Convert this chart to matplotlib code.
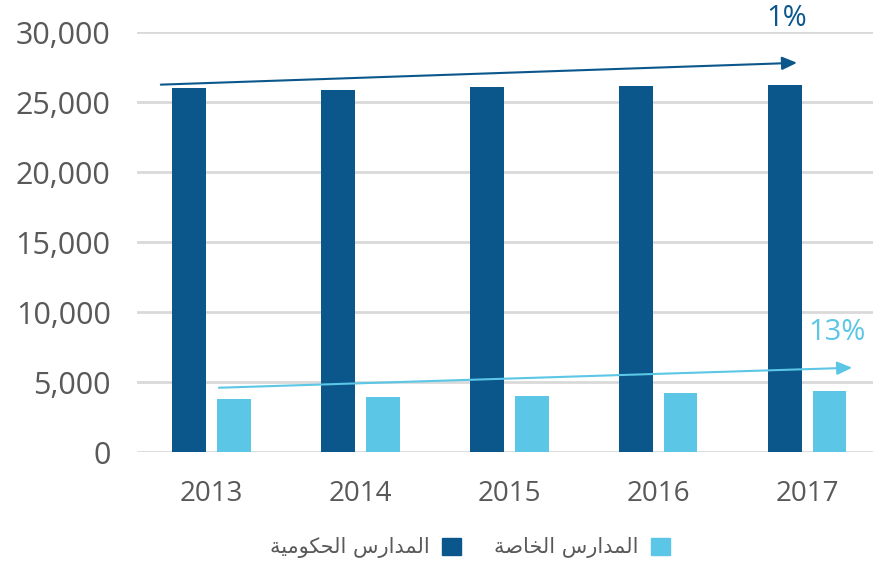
import numpy as np
import matplotlib
matplotlib.use("Agg")
import matplotlib.pyplot as plt
from matplotlib.patches import Patch
from matplotlib.ticker import FuncFormatter

# data
years = ["2013", "2014", "2015", "2016", "2017"]
government = [26000, 25880, 26090, 26160, 26240]
private = [3810, 3930, 3970, 4190, 4360]
label_gov = "المدارس الحكومية"
label_priv = "المدارس الخاصة"
growth_gov = "1%"
growth_priv = "13%"

dark = "#0b578b"
light = "#5bc6e5"
grey = "#595959"

# matplotlib has no arabic shaping, so map letters to presentation forms
# (isolated, final, initial, medial) and reverse for right-to-left display
forms = {
    "ا": ("\uFE8D", "\uFE8E", None, None),
    "د": ("\uFEA9", "\uFEAA", None, None),
    "ر": ("\uFEAD", "\uFEAE", None, None),
    "و": ("\uFEED", "\uFEEE", None, None),
    "ة": ("\uFE93", "\uFE94", None, None),
    "ل": ("\uFEDD", "\uFEDE", "\uFEDF", "\uFEE0"),
    "م": ("\uFEE1", "\uFEE2", "\uFEE3", "\uFEE4"),
    "س": ("\uFEB1", "\uFEB2", "\uFEB3", "\uFEB4"),
    "ح": ("\uFEA1", "\uFEA2", "\uFEA3", "\uFEA4"),
    "ك": ("\uFED9", "\uFEDA", "\uFEDB", "\uFEDC"),
    "ي": ("\uFEF1", "\uFEF2", "\uFEF3", "\uFEF4"),
    "خ": ("\uFEA5", "\uFEA6", "\uFEA7", "\uFEA8"),
    "ص": ("\uFEB9", "\uFEBA", "\uFEBB", "\uFEBC"),
}


def shape(text):
    out = []
    for i, ch in enumerate(text):
        if ch not in forms:
            out.append(ch)
            continue
        prev = text[i - 1] if i > 0 else ""
        nxt = text[i + 1] if i + 1 < len(text) else ""
        join_prev = prev in forms and forms[prev][2] is not None
        join_next = forms[ch][2] is not None and nxt in forms
        f = forms[ch]
        if join_prev and join_next:
            out.append(f[3])
        elif join_prev:
            out.append(f[1])
        elif join_next:
            out.append(f[2])
        else:
            out.append(f[0])
    return "".join(out)[::-1]


plt.rcParams["font.family"] = ["Open Sans", "DejaVu Sans"]

fig = plt.figure(figsize=(8.73, 5.65), dpi=100)
ax = fig.add_axes([137 / 873, 113 / 565, 736 / 873, 420 / 565])

x = np.arange(len(years))
w = 0.228
gap = 0.068
ax.bar(x - (w + gap) / 2, government, w, color=dark, zorder=3)
ax.bar(x + (w + gap) / 2, private, w, color=light, zorder=3)

ax.set_xlim(-0.5, 4.44)
ax.set_ylim(0, 30000)
ax.set_yticks(range(0, 30001, 5000))
ax.yaxis.set_major_formatter(FuncFormatter(lambda v, p: f"{int(v):,}"))
ax.set_xticks(x)
ax.set_xticklabels(years)
ax.grid(axis="y", color="#d9d9d9", linewidth=2, zorder=0)
for s in ax.spines.values():
    s.set_visible(False)
ax.tick_params(axis="y", length=0, pad=19, labelsize=22, labelcolor=grey)
ax.tick_params(axis="x", length=0, pad=20, labelsize=20, labelcolor=grey)

# trend arrows
ax.annotate("", xy=(3.93, 27800), xytext=(-0.34, 26240),
            arrowprops=dict(arrowstyle="-|>,head_length=0.9,head_width=0.4",
                            color=dark, lw=1.5, shrinkA=0, shrinkB=0),
            annotation_clip=False)
ax.annotate("", xy=(4.3, 6020), xytext=(0.05, 4590),
            arrowprops=dict(arrowstyle="-|>,head_length=0.9,head_width=0.4",
                            color=light, lw=1.5, shrinkA=0, shrinkB=0),
            annotation_clip=False)
ax.text(3.86, 31000, growth_gov, color=dark, fontsize=21, ha="center",
        va="center", clip_on=False)
ax.text(4.2, 8550, growth_priv, color=light, fontsize=21, ha="center",
        va="center", clip_on=False)

handles = [Patch(color=dark), Patch(color=light)]
fig.legend(handles, [shape(label_gov), shape(label_priv)], ncol=2,
           markerfirst=False, frameon=False, loc="center",
           bbox_to_anchor=(470 / 873, 1 - 548 / 565),
           prop={"family": "DejaVu Sans", "size": 15}, labelcolor=grey,
           handlelength=0.9, handleheight=0.9, columnspacing=1.6,
           handletextpad=0.6)

fig.savefig("out.png", dpi=100)
